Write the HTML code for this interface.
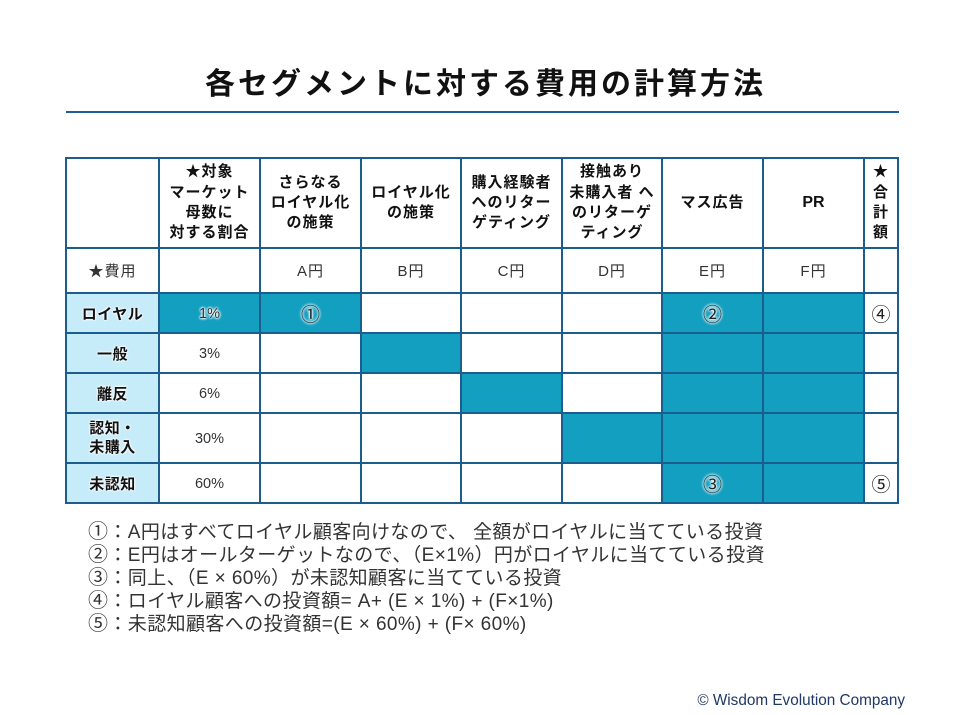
<!DOCTYPE html>
<html><head><meta charset="utf-8">
<style>
html,body{margin:0;padding:0;background:#fff;}
body{width:968px;height:715px;position:relative;overflow:hidden;font-family:"Liberation Sans","Noto Sans CJK JP",sans-serif;}
.title{position:absolute;left:0;width:968px;top:69px;height:32px;line-height:32px;text-align:center;font-size:30px;font-weight:bold;letter-spacing:3px;color:#111;padding-left:3px;box-sizing:border-box;}
.tline{position:absolute;left:66px;width:833px;top:111px;height:2px;background:#1f5f99;}
.c{position:absolute;display:flex;align-items:center;justify-content:center;text-align:center;box-sizing:border-box;}
.t{background:#129fc0;}
.lb{background:#c6ebf9;}
.h{font-weight:bold;font-size:15px;line-height:20.3px;letter-spacing:1px;color:#111;}
.n{font-size:15px;letter-spacing:1px;color:#333;}
.r{font-weight:bold;font-size:15px;letter-spacing:0.5px;color:#111;text-shadow:0 0 2px #fff,0 0 2px #fff,0 0 3px #fff;}
.p{font-size:14.5px;color:#333;padding-top:2px;}
.cn{font-family:"Noto Sans CJK JP",sans-serif;font-size:19px;color:#222;}
.g{text-shadow:0 0 2px #fff,0 0 2px #fff,0 0 3px #fff,0 0 3px #fff;}
.v{position:absolute;width:2px;background:#1b5d8f;top:157px;height:347px;}
.hz{position:absolute;height:2px;background:#1b5d8f;left:65px;width:834px;}
.nl{position:absolute;left:88px;height:23px;line-height:23px;font-size:19px;color:#333;letter-spacing:0.4px;white-space:nowrap;}
.nl .k{font-family:"Noto Sans CJK JP",sans-serif;font-size:20px;}
.copy{position:absolute;right:63px;top:692px;font-size:15.3px;color:#1f3864;white-space:nowrap;}
</style></head><body>
<div class="title">各セグメントに対する費用の計算方法</div>
<div class="tline"></div>

<!-- fills -->
<div class="c lb" style="left:66px;top:293px;width:93px;height:210px;"></div>
<div class="c t" style="left:159px;top:293px;width:202px;height:40px;"></div>
<div class="c t" style="left:361px;top:333px;width:100px;height:40px;"></div>
<div class="c t" style="left:461px;top:373px;width:101px;height:40px;"></div>
<div class="c t" style="left:562px;top:413px;width:100px;height:50px;"></div>
<div class="c t" style="left:662px;top:293px;width:202px;height:210px;"></div>

<!-- header row -->
<div class="c h" style="left:159px;top:158px;width:101px;height:90px;">★対象<br>マーケット<br>母数に<br>対する割合</div>
<div class="c h" style="left:260px;top:158px;width:101px;height:90px;">さらなる<br>ロイヤル化<br>の施策</div>
<div class="c h" style="left:361px;top:158px;width:100px;height:90px;">ロイヤル化<br>の施策</div>
<div class="c h" style="left:461px;top:158px;width:101px;height:90px;">購入経験者<br>へのリター<br>ゲティング</div>
<div class="c h" style="left:562px;top:158px;width:100px;height:90px;">接触あり<br>未購入者 へ<br>のリターゲ<br>ティング</div>
<div class="c h" style="left:662px;top:158px;width:101px;height:90px;">マス広告</div>
<div class="c h" style="left:763px;top:158px;width:101px;height:90px;letter-spacing:0;font-size:16px;">PR</div>
<div class="c h" style="left:864px;top:158px;width:34px;height:90px;">★<br>合<br>計<br>額</div>

<!-- cost row -->
<div class="c n" style="left:66px;top:248px;width:93px;height:45px;">★費用</div>
<div class="c n" style="left:260px;top:248px;width:101px;height:45px;">A円</div>
<div class="c n" style="left:361px;top:248px;width:100px;height:45px;">B円</div>
<div class="c n" style="left:461px;top:248px;width:101px;height:45px;">C円</div>
<div class="c n" style="left:562px;top:248px;width:100px;height:45px;">D円</div>
<div class="c n" style="left:662px;top:248px;width:101px;height:45px;">E円</div>
<div class="c n" style="left:763px;top:248px;width:101px;height:45px;">F円</div>

<!-- row labels -->
<div class="c r" style="left:66px;top:293px;width:93px;height:40px;">ロイヤル</div>
<div class="c r" style="left:66px;top:333px;width:93px;height:40px;">一般</div>
<div class="c r" style="left:66px;top:373px;width:93px;height:40px;">離反</div>
<div class="c r" style="left:66px;top:413px;width:93px;height:50px;line-height:19px;">認知・<br>未購入</div>
<div class="c r" style="left:66px;top:463px;width:93px;height:40px;">未認知</div>

<!-- percents -->
<div class="c p g" style="left:159px;top:293px;width:101px;height:40px;">1%</div>
<div class="c p" style="left:159px;top:333px;width:101px;height:40px;">3%</div>
<div class="c p" style="left:159px;top:373px;width:101px;height:40px;">6%</div>
<div class="c p" style="left:159px;top:413px;width:101px;height:50px;">30%</div>
<div class="c p" style="left:159px;top:463px;width:101px;height:40px;">60%</div>

<!-- circled -->
<div class="c cn g" style="left:260px;top:293px;width:101px;height:40px;">①</div>
<div class="c cn g" style="left:662px;top:293px;width:101px;height:40px;">②</div>
<div class="c cn g" style="left:662px;top:463px;width:101px;height:40px;">③</div>
<div class="c cn" style="left:864px;top:293px;width:34px;height:40px;">④</div>
<div class="c cn" style="left:864px;top:463px;width:34px;height:40px;">⑤</div>

<!-- grid lines -->
<div class="v" style="left:65px;"></div>
<div class="v" style="left:158px;"></div>
<div class="v" style="left:259px;"></div>
<div class="v" style="left:360px;"></div>
<div class="v" style="left:460px;"></div>
<div class="v" style="left:561px;"></div>
<div class="v" style="left:661px;"></div>
<div class="v" style="left:762px;"></div>
<div class="v" style="left:863px;"></div>
<div class="v" style="left:897px;"></div>
<div class="hz" style="top:157px;"></div>
<div class="hz" style="top:247px;"></div>
<div class="hz" style="top:292px;"></div>
<div class="hz" style="top:332px;"></div>
<div class="hz" style="top:372px;"></div>
<div class="hz" style="top:412px;"></div>
<div class="hz" style="top:462px;"></div>
<div class="hz" style="top:502px;"></div>

<div class="nl" style="top:518px;"><span class="k">①</span>：A円はすべてロイヤル顧客向けなので、 全額がロイヤルに当てている投資</div>
<div class="nl" style="top:541px;"><span class="k">②</span>：E円はオールターゲットなので、（E×1%）円がロイヤルに当てている投資</div>
<div class="nl" style="top:564px;"><span class="k">③</span>：同上、（E × 60%）が未認知顧客に当てている投資</div>
<div class="nl" style="top:587px;"><span class="k">④</span>：ロイヤル顧客への投資額= A+ (E × 1%) + (F×1%)</div>
<div class="nl" style="top:610px;"><span class="k">⑤</span>：未認知顧客への投資額=(E × 60%) + (F× 60%)</div>

<div class="copy">© Wisdom Evolution Company</div>
</body></html>
